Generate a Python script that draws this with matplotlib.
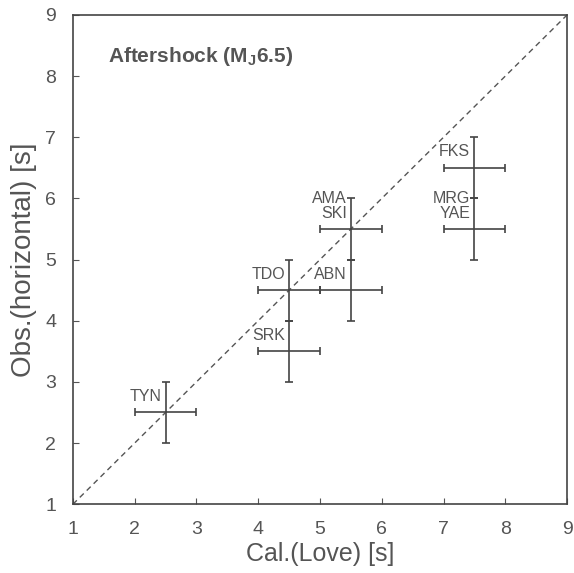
import matplotlib
matplotlib.use('Agg')
import matplotlib.pyplot as plt

plt.rcParams['font.family'] = ['Liberation Sans', 'DejaVu Sans']
plt.rcParams['mathtext.fontset'] = 'custom'
plt.rcParams['mathtext.bf'] = 'Liberation Sans:bold'
plt.rcParams['mathtext.rm'] = 'Liberation Sans'

# data
stations = ['TYN', 'SRK', 'TDO', 'ABN', 'AMA\nSKI', 'FKS', 'MRG\nYAE']
cal_love = [2.5, 4.5, 4.5, 5.5, 5.5, 7.5, 7.5]
obs_horiz = [2.5, 3.5, 4.5, 4.5, 5.5, 6.5, 5.5]
x_err = [0.5, 0.5, 0.5, 0.5, 0.5, 0.5, 0.5]
y_err = [0.5, 0.5, 0.5, 0.5, 0.5, 0.5, 0.5]
ticks = [1, 2, 3, 4, 5, 6, 7, 8, 9]

fig = plt.figure(figsize=(5.74, 5.73), dpi=100)
ax = fig.add_axes([0.127, 0.120, 0.861, 0.854])

ax.plot([1, 9], [1, 9], linestyle=(0, (4, 3)), color='#555555', lw=1.0)

ax.errorbar(cal_love, obs_horiz, xerr=x_err, yerr=y_err, fmt='none',
            ecolor='#444444', elinewidth=1.2, capsize=3, capthick=1.2)

for name, x, y in zip(stations, cal_love, obs_horiz):
    ax.annotate(name, (x, y), xytext=(-3, 6), textcoords='offset points',
                ha='right', va='bottom', fontsize=11.5, color='#555555',
                linespacing=1.0)

ax.text(0.071, 0.914, r'Aftershock (M$_{\mathbf{J}}$6.5)', transform=ax.transAxes,
        fontsize=15, fontweight='bold', color='#555555', va='center')

ax.set_xlim(1, 9)
ax.set_ylim(1, 9)
ax.set_xticks(ticks)
ax.set_yticks(ticks)
ax.tick_params(direction='in', length=4, width=0.8, colors='#555555',
               labelsize=14, pad=12)
for s in ax.spines.values():
    s.set_color('#444444')
    s.set_linewidth(1.2)

ax.set_xlabel('Cal.(Love) [s]', fontsize=18, color='#555555', labelpad=3)
ax.set_ylabel('Obs.(horizontal) [s]', fontsize=20, color='#555555', labelpad=6)

plt.savefig('out.png', dpi=100)
plt.close()
